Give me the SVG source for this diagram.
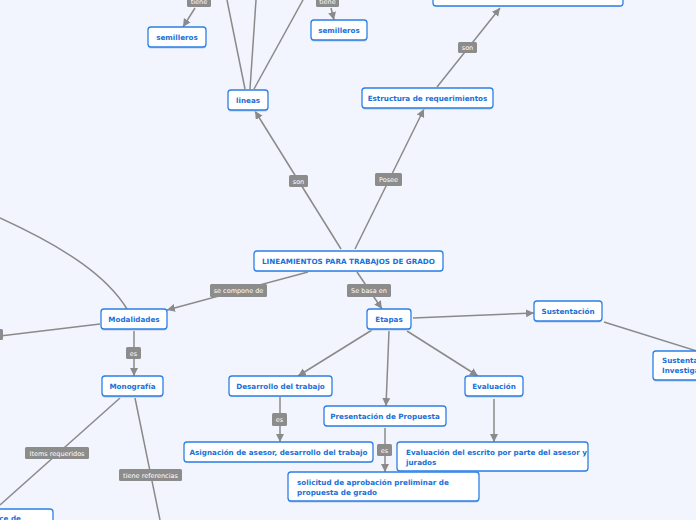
<svg xmlns="http://www.w3.org/2000/svg" width="696" height="520" viewBox="0 0 696 520">
<defs>
<marker id="arr" markerUnits="userSpaceOnUse" markerWidth="10" markerHeight="10" refX="8" refY="4" orient="auto">
<path d="M0,0 L8,4 L0,8 Z" fill="#8a8a8a"/>
</marker>
<style>
.bg{fill:#f2f5fd}
.ln{stroke:#8a8a8a;stroke-width:1.5;fill:none}
.lb{fill:#8c8c8c}
.lt{fill:#ffffff;font-family:"DejaVu Sans",sans-serif;font-size:6.5px;text-anchor:middle}
.nd{fill:#ffffff;stroke:#2b7fe6;stroke-width:1.3}
.sh{fill:#b9c9df}
.nt{fill:#1a70d8;font-family:"DejaVu Sans",sans-serif;font-weight:bold;font-size:7.2px;text-anchor:middle}
.nl{fill:#1a70d8;font-family:"DejaVu Sans",sans-serif;font-weight:bold;font-size:7.2px}
</style>
</defs>
<rect class="bg" x="0" y="0" width="696" height="520"/>
<g id="connectors">
<line class="ln" x1="341" y1="249" x2="255" y2="111" marker-end="url(#arr)"/>
<line class="ln" x1="355" y1="249" x2="424" y2="109" marker-end="url(#arr)"/>
<line class="ln" x1="437" y1="87" x2="500" y2="8" marker-end="url(#arr)"/>
<line class="ln" x1="245" y1="89" x2="227" y2="0"/>
<line class="ln" x1="250" y1="89" x2="256" y2="0"/>
<line class="ln" x1="254" y1="89" x2="303" y2="0"/>
<line class="ln" x1="195" y1="8" x2="183" y2="27" marker-end="url(#arr)"/>
<line class="ln" x1="331" y1="8" x2="334" y2="20" marker-end="url(#arr)"/>
<line class="ln" x1="308" y1="272" x2="167" y2="310" marker-end="url(#arr)"/>
<path class="ln" d="M127,309 C108,278 70,250 0,218"/>
<line class="ln" x1="100" y1="324" x2="0" y2="336"/>
<line class="ln" x1="134" y1="331" x2="134" y2="376" marker-end="url(#arr)"/>
<line class="ln" x1="120" y1="398" x2="0" y2="505"/>
<line class="ln" x1="135" y1="398" x2="160" y2="520"/>
<line class="ln" x1="357" y1="272" x2="382" y2="309" marker-end="url(#arr)"/>
<line class="ln" x1="413" y1="318" x2="534" y2="313" marker-end="url(#arr)"/>
<line class="ln" x1="604" y1="322" x2="700" y2="352"/>
<line class="ln" x1="372" y1="330" x2="298" y2="376" marker-end="url(#arr)"/>
<line class="ln" x1="389" y1="331" x2="386" y2="406" marker-end="url(#arr)"/>
<line class="ln" x1="407" y1="331" x2="478" y2="376" marker-end="url(#arr)"/>
<line class="ln" x1="280" y1="397" x2="280" y2="442" marker-end="url(#arr)"/>
<line class="ln" x1="385" y1="428" x2="385" y2="472" marker-end="url(#arr)"/>
<line class="ln" x1="494" y1="399" x2="494" y2="442" marker-end="url(#arr)"/>
<rect class="lb" x="289" y="175" width="19" height="12" rx="1.5"/><text class="lt" x="298.5" y="183.5">son</text>
<rect class="lb" x="375" y="173" width="27" height="13" rx="1.5"/><text class="lt" x="388.5" y="182">Posee</text>
<rect class="lb" x="458" y="42" width="19" height="11" rx="1.5"/><text class="lt" x="467.5" y="50">son</text>
<rect class="lb" x="187" y="-6" width="24" height="13" rx="1.5"/><text class="lt" x="199" y="4">tiene</text>
<rect class="lb" x="316" y="-6" width="23" height="13" rx="1.5"/><text class="lt" x="327.5" y="4">tiene</text>
<rect class="lb" x="210" y="284" width="57" height="13" rx="1.5"/><text class="lt" x="238.5" y="293">se compone de</text>
<rect class="lb" x="-10" y="329" width="13" height="11" rx="1.5"/>
<rect class="lb" x="126" y="347" width="15" height="12" rx="1.5"/><text class="lt" x="133.5" y="355.5">es</text>
<rect class="lb" x="25" y="447" width="64" height="12" rx="1.5"/><text class="lt" x="57" y="455.5">Items requeridos</text>
<rect class="lb" x="119" y="469" width="63" height="12" rx="1.5"/><text class="lt" x="150.5" y="477.5">tiene referencias</text>
<rect class="lb" x="347" y="284" width="44" height="13" rx="1.5"/><text class="lt" x="369" y="293">Se basa en</text>
<rect class="lb" x="272" y="413" width="15" height="13" rx="1.5"/><text class="lt" x="279.5" y="422">es</text>
<rect class="lb" x="377" y="444" width="15" height="12" rx="1.5"/><text class="lt" x="384.5" y="452.5">es</text>
</g>
<g id="n-semilleros-1"><rect class="sh" x="148" y="28.5" width="58" height="20" rx="3"/><rect class="nd" x="148" y="27" width="58" height="20" rx="3"/><text class="nt" x="177" y="39.6">semilleros</text></g>
<g id="n-semilleros-2"><rect class="sh" x="311" y="21.5" width="56" height="20" rx="3"/><rect class="nd" x="311" y="20" width="56" height="20" rx="3"/><text class="nt" x="339" y="32.6">semilleros</text></g>
<g id="n-lineas"><rect class="sh" x="228" y="91.5" width="40" height="20" rx="3"/><rect class="nd" x="228" y="90" width="40" height="20" rx="3"/><text class="nt" x="248" y="102.6">lineas</text></g>
<g id="n-top"><rect class="sh" x="433" y="-14.5" width="190" height="21" rx="3"/><rect class="nd" x="433" y="-16" width="190" height="22" rx="3"/></g>
<g id="n-estructura"><rect class="sh" x="362" y="89.5" width="131" height="20" rx="3"/><rect class="nd" x="362" y="88" width="131" height="20" rx="3"/><text class="nt" x="427.5" y="100.6">Estructura de requerimientos</text></g>
<g id="n-lineamientos"><rect class="sh" x="254" y="252.5" width="189" height="19" rx="3"/><rect class="nd" x="254" y="251" width="189" height="20" rx="3"/><text class="nt" x="348.5" y="263.6">LINEAMIENTOS PARA TRABAJOS DE GRADO</text></g>
<g id="n-modalidades"><rect class="sh" x="101" y="310.5" width="66" height="20" rx="3"/><rect class="nd" x="101" y="309" width="66" height="20" rx="3"/><text class="nt" x="134" y="321.6">Modalidades</text></g>
<g id="n-monografia"><rect class="sh" x="102" y="377.5" width="61" height="20" rx="3"/><rect class="nd" x="102" y="376" width="61" height="20" rx="3"/><text class="nt" x="132.5" y="388.6">Monografía</text></g>
<g id="n-etapas"><rect class="sh" x="367" y="310.5" width="44" height="20" rx="3"/><rect class="nd" x="367" y="309" width="44" height="20" rx="3"/><text class="nt" x="389" y="321.6">Etapas</text></g>
<g id="n-sustentacion"><rect class="sh" x="534" y="302.5" width="68" height="20" rx="3"/><rect class="nd" x="534" y="301" width="68" height="20" rx="3"/><text class="nt" x="568" y="313.6">Sustentación</text></g>
<g id="n-sustentacion-inv"><rect class="sh" x="653" y="352.5" width="90" height="29" rx="3"/><rect class="nd" x="653" y="351" width="90" height="29" rx="3"/><text class="nl" x="662" y="363">Sustentación</text><text class="nl" x="662" y="373">Investigación</text></g>
<g id="n-evaluacion"><rect class="sh" x="465" y="377.5" width="58" height="20" rx="3"/><rect class="nd" x="465" y="376" width="58" height="20" rx="3"/><text class="nt" x="494" y="388.6">Evaluación</text></g>
<g id="n-desarrollo"><rect class="sh" x="229" y="377.5" width="103" height="19" rx="3"/><rect class="nd" x="229" y="376" width="103" height="20" rx="3"/><text class="nt" x="280.5" y="388.6">Desarrollo del trabajo</text></g>
<g id="n-presentacion"><rect class="sh" x="324" y="407.5" width="122" height="19" rx="3"/><rect class="nd" x="324" y="406" width="122" height="20" rx="3"/><text class="nt" x="385" y="418.6">Presentación de Propuesta</text></g>
<g id="n-asignacion"><rect class="sh" x="184" y="443.5" width="189" height="19" rx="3"/><rect class="nd" x="184" y="442" width="189" height="20" rx="3"/><text class="nt" x="278.5" y="454.6">Asignación de asesor, desarrollo del trabajo</text></g>
<g id="n-solicitud"><rect class="sh" x="288" y="473.5" width="191" height="29" rx="3"/><rect class="nd" x="288" y="472" width="191" height="29" rx="3"/><text class="nl" x="297" y="484.5">solicitud de aprobación preliminar de</text><text class="nl" x="297" y="494.5">propuesta de grado</text></g>
<g id="n-evaluacion-escrito"><rect class="sh" x="397" y="443.5" width="191" height="28" rx="3"/><rect class="nd" x="397" y="442" width="191" height="29" rx="3"/><text class="nl" x="406" y="454.5">Evaluación del escrito por parte del asesor y</text><text class="nl" x="406" y="464.5">jurados</text></g>
<g id="n-indice"><rect class="sh" x="-60" y="510.5" width="113" height="20" rx="3"/><rect class="nd" x="-60" y="509" width="113" height="20" rx="3"/><text class="nl" x="21" y="521" text-anchor="end">Índice de</text></g>
</svg>
